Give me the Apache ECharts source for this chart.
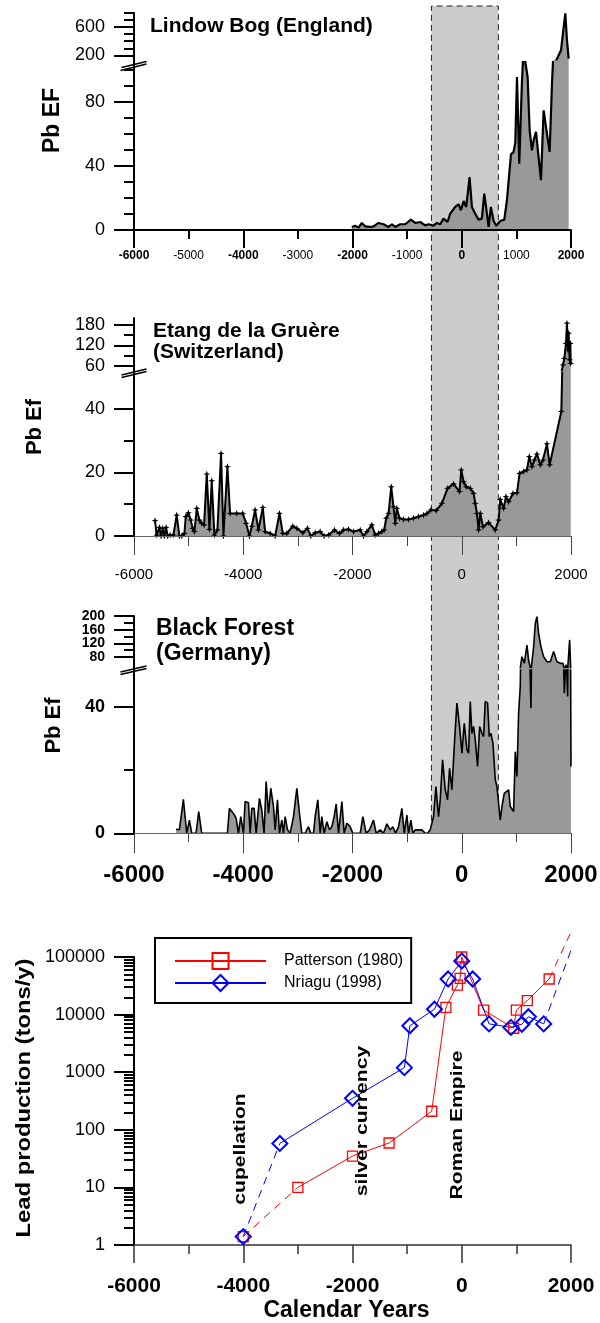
<!DOCTYPE html>
<html><head><meta charset="utf-8">
<script src="https://cdn.jsdelivr.net/npm/echarts@6/dist/echarts.min.js"></script>
<style>html,body{margin:0;padding:0;background:#fff}#c{width:600px;height:1323px}</style>
</head><body><div id="c"></div>
<script>
const FONT = "'Liberation Sans', Arial, Helvetica, sans-serif";

// ---------------- DATA ----------------
// Lindow Bog (England) – Pb EF
const lindowYears = [-2012,-1951,-1890,-1829,-1768,-1676,-1615,-1523,-1432,-1340,-1279,-1218,-1127,-1035,-931,-852,-760,-669,-608,-516,-455,-394,-333,-260,-211,-119,-58,-15,34,82,143,186,247,308,369,412,461,491,534,583,632,705,779,827,858,901,949,980,1011,1053,1102,1133,1163,1206,1243,1285,1316,1359,1407,1450,1499,1560,1609,1652,1682,1731,1774,1817,1853,1896,1926,1957];
const lindowEF = [1.9,2.7,1.5,4.4,2.3,1.9,2.3,4.4,3.6,1.9,3.6,1.9,3.6,3.6,6.5,4.4,5.0,2.9,3.6,2.7,4.4,3.6,7.1,5.0,10.2,14.4,16.1,12.3,18.1,14.4,33.1,14.4,10.2,6.5,7.1,22.7,10.2,1.9,14.4,5.6,2.7,5.6,6.5,18.6,18.6,47.3,48.8,54.4,95.6,41.5,92.5,114,105,95.6,62.3,49.8,56.1,61.3,45.6,31.1,74.8,60.2,48.8,91.5,114,129,200,271,510,795,414,153];

// Etang de la Gruère (Switzerland) – Pb Ef
const gruereYears = [-5615,-5584,-5535,-5505,-5474,-5444,-5413,-5383,-5340,-5279,-5218,-5169,-5126,-5077,-5053,-5004,-4961,-4925,-4894,-4851,-4803,-4760,-4717,-4668,-4619,-4577,-4528,-4473,-4406,-4363,-4290,-4241,-4119,-4009,-3948,-3887,-3844,-3783,-3722,-3642,-3600,-3508,-3416,-3337,-3276,-3203,-3093,-3019,-2910,-2824,-2763,-2684,-2592,-2519,-2439,-2330,-2238,-2165,-2073,-1981,-1859,-1798,-1737,-1646,-1585,-1524,-1462,-1420,-1383,-1340,-1291,-1249,-1218,-1188,-1139,-1066,-974,-882,-791,-699,-638,-565,-467,-363,-260,-150,-40,-9,34,82,156,217,247,278,308,339,388,491,614,675,705,766,809,858,937,1011,1059,1133,1194,1236,1285,1328,1377,1438,1487,1560,1609,1823,1853,1878,1908,1926,1945,1957,1975,1988,1995];
const gruereEF = [4.8,0.3,2.7,0,2.4,0,2.7,0,0.3,0.3,6.6,0,0,0.8,6.1,7.3,5.0,2.4,1.4,8.7,5.0,4.0,3.5,19.5,2.1,17.4,0.3,1.9,26.0,0,21.8,7.1,7.1,7.1,4.0,0,3.1,8.2,1.9,9.0,1.4,0.8,0,7.1,0.8,0.8,3.1,2.4,1.0,2.4,0,1.0,1.4,0,0.3,1.9,0.8,1.9,2.1,1.4,1.9,0,1.4,3.5,0.3,0.8,1.4,1.9,5.6,7.1,15.5,9.2,4.0,8.7,5.6,5.2,5.2,5.6,6.1,6.6,7.1,8.2,8.0,10.3,15.0,16.4,14.0,20.8,17.1,15.5,15.0,13.4,10.3,7.1,1.9,7.1,2.9,4.2,1.9,5.0,11.5,8.7,12.4,10.8,13.4,13.6,19.7,20.3,20.8,25.0,21.8,23.9,25.8,22.4,23.9,29.0,22.4,39.2,63,82,126,185,107,156,78,126,68];

// Black Forest (Germany) – Pb Ef
const blackYears = [-5230,-5169,-5096,-5034,-4986,-4943,-4864,-4815,-4760,-4290,-4253,-4180,-4131,-4088,-4045,-3996,-3966,-3905,-3874,-3844,-3801,-3764,-3703,-3661,-3618,-3581,-3538,-3496,-3447,-3416,-3374,-3337,-3294,-3264,-3233,-3190,-3141,-3080,-3019,-2971,-2928,-2867,-2806,-2763,-2714,-2684,-2635,-2592,-2562,-2519,-2470,-2421,-2378,-2336,-2299,-2256,-2195,-2152,-2103,-2042,-1994,-1859,-1810,-1749,-1688,-1615,-1566,-1493,-1432,-1371,-1310,-1261,-1212,-1157,-1096,-1053,-1004,-974,-931,-895,-852,-730,-669,-626,-577,-516,-473,-425,-394,-351,-302,-260,-223,-180,-137,-89,-40,3,46,95,125,156,186,217,247,290,327,369,400,430,473,504,534,571,614,644,705,736,778,858,888,949,980,1010,1041,1071,1102,1145,1194,1224,1267,1316,1346,1377,1407,1450,1499,1560,1621,1682,1743,1805,1853,1878,1914,1939,1975,2000];
const blackEF = [1.3,1.1,10.8,0,4.2,0,0,6.9,0,0,7.9,6.3,4.8,0,5.3,0,10.1,9.7,0,7.9,7.9,0,11.1,7.4,0,16.4,6.3,14.3,8.5,1.1,10.6,0,4.2,0,5.3,1.1,0,5.3,14.3,6.3,0,0,2.1,0,0,5.3,10.6,0,5.3,0,3.7,1.1,2.1,5.3,9.3,0,10.1,0,3.2,2.1,0,0,5.3,0,1.1,4.2,0,1.1,0,3.0,1.1,2.1,0,2.1,7.9,0,5.8,0,4.2,0,1.1,1.1,0,0,1.1,5.3,14.8,5.3,10.6,23.3,13.8,10.6,20.6,13.8,27.5,41.3,33.9,25.4,34.9,26.5,25.4,41.8,31.7,33.9,29.6,21.2,33.9,31.7,30.7,41.8,41.3,30.7,31.7,28.6,16.9,14.8,4.2,8.5,12.7,13.8,8.5,6.9,25.9,18.0,38.1,46.6,81,61.5,115,71,39.7,110,178,198,149,110,81,66,66,96,66,61.5,61.5,44.4,57,43.4,130,21.2];

// Lead production (tons/y)
const pattersonYears = [-4000,-3000,-2000,-1330,-550,-290,-80,-30,0,400,950,1000,1200,1600];
const pattersonProd  = [1.4,10,35,59,210,13400,32600,42700,100000,12000,5800,12000,17500,41500];
const pattersonTrendYears = [1600,2016];
const pattersonTrend = [41500,294000];
const nriaguYears = [-4000,-3330,-2000,-1050,-950,-500,-250,0,200,500,900,1100,1220,1500];
const nriaguProd  = [1.4,58,352,1200,6400,12400,41500,85000,41500,6900,6000,6800,9200,6900];
const nriaguTrendYears = [1500,2138];
const nriaguTrend = [6900,294000];

// Shaded interval (years)
const bandYears = [-555, 670];

// Tick / label values
const p1LowShort = [10,20,30,50,60,70,90,100], p1LowLong = [0,40,80];
const p1UpShort = [300,400,500,700,800], p1UpLong = [200,600];
const p2LowShort = [10,30], p2LowLong = [0,20,40];
const p2UpShort = [90,150], p2UpLong = [60,120,180];
const p3LowShort = [20], p3LowLong = [0,40];
const p3UpShort = [100,140,180], p3UpLong = [80,120,160,200];
const logMajor = [1,10,100,1000,10000,100000];
const logMinor = [];
[1,10,100,1000,10000].forEach(d => { for (let k = 2; k <= 9; k++) logMinor.push(k * d); });

// ---------------- BUILD ----------------
const X_MIN = -6000, X_MAX = 2000;
const grids = [], xAxes = [], yAxes = [], series = [];
const pairs = (xs, ys) => xs.map((x, i) => [x, ys[i]]);
const plain = v => String(v);

function addGrid(top, height) {
  grids.push({left: 134, width: 437, top: top, height: height, containLabel: false, outerBoundsMode: 'none', show: false});
  return grids.length - 1;
}
function xPair(g, st) {
  const ia = xAxes.length;
  xAxes.push({gridIndex: g, type: 'value', min: X_MIN, max: X_MAX, interval: 1000, position: 'bottom', z: 4,
    axisLine: {show: true, onZero: false, lineStyle: st.line},
    axisTick: {show: true, length: st.shortLen, lineStyle: st.tick},
    axisLabel: st.shortLabel || {show: false}, splitLine: {show: false}});
  xAxes.push({gridIndex: g, type: 'value', min: X_MIN, max: X_MAX, interval: 2000, position: 'bottom', z: 4,
    axisLine: {show: false, onZero: false},
    axisTick: {show: true, length: st.longLen, lineStyle: st.tick},
    axisLabel: st.longLabel ? Object.assign({formatter: plain, hideOverlap: false}, st.longLabel) : {show: false},
    splitLine: {show: false}});
  return ia;
}
function xHidden(g) {
  xAxes.push({gridIndex: g, type: 'value', min: X_MIN, max: X_MAX, show: false, splitLine: {show: false}});
  return xAxes.length - 1;
}
// visible y axis: short ticks + long ticks; labels can be split over several overlaid axes
function yPair(g, type, min, max, shortVals, longVals, lab, labelGroups) {
  const ia = yAxes.length;
  const base = {gridIndex: g, type: type, min: min, max: max, position: 'left', z: 4, splitLine: {show: false}};
  if (type === 'log') base.logBase = 10;
  const labStyle = vals => Object.assign({show: true, customValues: vals, margin: 29, color: '#000', fontFamily: FONT,
      formatter: plain, hideOverlap: false, showMinLabel: true, showMaxLabel: true}, lab);
  yAxes.push(Object.assign({}, base, {
    axisLine: {show: true, onZero: false, lineStyle: {color: '#000', width: 2}},
    axisTick: {show: true, customValues: shortVals, length: 10, lineStyle: {color: '#000', width: 2}},
    axisLabel: {show: false}}));
  const groups = labelGroups || [longVals];
  groups.forEach((vals, k) => {
    yAxes.push(Object.assign({}, base, {
      axisLine: {show: false, onZero: false},
      axisTick: k === 0 ? {show: true, customValues: longVals, length: 20, lineStyle: {color: '#000', width: 2}} : {show: false},
      axisLabel: labStyle(vals)}));
  });
  return ia;
}
function yHidden(g, min, max) {
  yAxes.push({gridIndex: g, type: 'value', min: min, max: max, show: false, splitLine: {show: false}});
  return yAxes.length - 1;
}
// area fill with a hair-thin (invisible) line so its clip rect is not expanded
function areaSeries(xi, yi, data) {
  series.push({type: 'line', xAxisIndex: xi, yAxisIndex: yi, data: data, z: 2, clip: true, silent: true,
    symbol: 'none', showSymbol: false, lineStyle: {color: '#999', width: 0.01, opacity: 0},
    areaStyle: {color: '#999999', opacity: 1}, emphasis: {disabled: true}});
}
function lineSeries(xi, yi, data, lw, sym) {
  series.push({type: 'line', xAxisIndex: xi, yAxisIndex: yi, data: data, z: 2, clip: true, silent: true,
    symbol: sym ? sym.type : 'none', symbolSize: sym ? sym.size : 0, showSymbol: !!sym,
    itemStyle: {color: '#000'}, lineStyle: {color: '#000', width: lw}, emphasis: {disabled: true}});
}
// upper (compressed) segment: area grid + a line grid raised by `raise` px with the same scale
function upperSegment(top, bottom, min, max, raise, data, lw, sym, shortVals, longVals, lab, groups) {
  const gA = addGrid(top, bottom - top);
  const xa = xHidden(gA);
  const ya = yPair(gA, 'value', min, max, shortVals, longVals, lab, groups);
  areaSeries(xa, ya, data);
  const perPx = (max - min) / (bottom - top);
  const gL = addGrid(top, bottom - raise - top);
  const xl = xHidden(gL);
  const yl = yHidden(gL, min + raise * perPx, max);
  lineSeries(xl, yl, data, lw, sym);
}

// shaded band spanning the three core panels
const gb = addGrid(6, 827.3);
const xb = xHidden(gb), yb = yHidden(gb, 0, 1);
const bandData = [[{xAxis: bandYears[0]}, {xAxis: bandYears[1]}]];
series.push({type: 'line', xAxisIndex: xb, yAxisIndex: yb, data: [[X_MIN, 0]], symbol: 'none', z: 1, silent: true,
  lineStyle: {width: 0, opacity: 0},
  markArea: {silent: true, itemStyle: {color: '#cccccc'}, data: bandData}});
series.push({type: 'line', xAxisIndex: xb, yAxisIndex: yb, data: [[X_MIN, 0]], symbol: 'none', z: 3, silent: true,
  lineStyle: {width: 0, opacity: 0},
  markArea: {silent: true, itemStyle: {color: 'rgba(0,0,0,0)', borderColor: '#222', borderWidth: 1, borderType: [6, 4]}, data: bandData}});

// Panel 1: Lindow Bog (lower 0–105 linear, upper 105–800 compressed)
const lindow = pairs(lindowYears, lindowEF);
const g1L = addGrid(62, 168);
const x1 = xPair(g1L, {line: {color: '#000', width: 2}, tick: {color: '#000', width: 2}, shortLen: 9, longLen: 18,
  shortLabel: {show: true, margin: 26, verticalAlign: 'middle', color: '#000', fontFamily: FONT, fontSize: 12, hideOverlap: false,
    formatter: v => (v % 2000 === 0 ? '{b|' + v + '}' : '{n|' + v + '}'),
    rich: {b: {fontWeight: 'bold', fontSize: 12, fontFamily: FONT, color: '#000'},
           n: {fontWeight: 'normal', fontSize: 12, fontFamily: FONT, color: '#000'}}}});
const y1L = yPair(g1L, 'value', 0, 105, p1LowShort, p1LowLong, {fontSize: 18});
areaSeries(x1, y1L, lindow);
lineSeries(x1, y1L, lindow, 2.2, null);
upperSegment(13, 62, 105, 800, 2.5, lindow, 2.2, null, p1UpShort, p1UpLong, {fontSize: 18});

// Panel 2: Etang de la Gruère
const gruere = pairs(gruereYears, gruereEF);
const star = {type: 'path://M0,-4L1,-1L4,0L1,1L0,4L-1,1L-4,0L-1,-1Z', size: 7};
const g2L = addGrid(373, 163);
const x2 = xPair(g2L, {line: {color: '#666', width: 1}, tick: {color: '#444', width: 1}, shortLen: 10, longLen: 19,
  longLabel: {show: true, margin: 39, verticalAlign: 'middle', color: '#000', fontFamily: FONT, fontSize: 15}});
const y2L = yPair(g2L, 'value', 0, 51.3, p2LowShort, p2LowLong, {fontSize: 18});
areaSeries(x2, y2L, gruere);
lineSeries(x2, y2L, gruere, 2, star);
upperSegment(318.1, 373, 39.5, 200, 2.5, gruere, 2, star, p2UpShort, p2UpLong, {fontSize: 18});

// Panel 3: Black Forest
const black = pairs(blackYears, blackEF);
const g3L = addGrid(670, 163.3);
const x3 = xPair(g3L, {line: {color: '#666', width: 1}, tick: {color: '#444', width: 1}, shortLen: 9, longLen: 20,
  longLabel: {show: true, margin: 42, verticalAlign: 'middle', color: '#000', fontFamily: FONT, fontSize: 24, fontWeight: 'bold'}});
const y3L = yPair(g3L, 'value', 0, 51.8, p3LowShort, p3LowLong, {fontSize: 18, fontWeight: 'bold'});
areaSeries(x3, y3L, black);
lineSeries(x3, y3L, black, 1.6, null);
upperSegment(616, 670, 42, 200, 2.5, black, 1.6, null, p3UpShort, p3UpLong,
  {fontSize: 14, fontWeight: 'bold', lineHeight: 12}, [[80, 160], [120, 200]]);

// Panel 4: lead production (log)
const g4 = addGrid(957, 288);
const x4 = xPair(g4, {line: {color: '#333', width: 1.5}, tick: {color: '#333', width: 1.5}, shortLen: 9, longLen: 18,
  longLabel: {show: true, margin: 41, verticalAlign: 'middle', color: '#000', fontFamily: FONT, fontSize: 21, fontWeight: 'bold'}});
const y4 = yPair(g4, 'log', 1, 100000, logMinor, logMajor, {fontSize: 18});

const redSym = {color: 'rgba(255,255,255,0)', borderColor: '#ff0000', borderWidth: 1.3};
const blueSym = {color: 'rgba(255,255,255,0)', borderColor: '#0000ff', borderWidth: 2};
function prodSeries(name, xs, ys, trendX, trendY, color, symbol, size, itemStyle) {
  series.push({name: name + ' early', type: 'line', xAxisIndex: x4, yAxisIndex: y4, z: 5, silent: true,
    data: [{value: [xs[0], ys[0]]}, {value: [xs[1], ys[1]], symbol: 'none'}],
    symbol: symbol, symbolSize: size, itemStyle: itemStyle,
    lineStyle: {color: color, width: 1, type: [8, 6]}});
  series.push({name: name, type: 'line', xAxisIndex: x4, yAxisIndex: y4, z: 5, silent: true,
    data: pairs(xs.slice(1), ys.slice(1)), symbol: symbol, symbolSize: size, itemStyle: itemStyle,
    lineStyle: {color: color, width: 1}});
  series.push({name: name + ' trend', type: 'line', xAxisIndex: x4, yAxisIndex: y4, z: 5, silent: true, clip: false,
    data: pairs(trendX, trendY), symbol: 'none', lineStyle: {color: color, width: 1, type: [8, 6]}});
}
prodSeries('Patterson (1980)', pattersonYears, pattersonProd, pattersonTrendYears, pattersonTrend, '#ff0000', 'rect', 10, redSym);
prodSeries('Nriagu (1998)', nriaguYears, nriaguProd, nriaguTrendYears, nriaguTrend, '#0000ff', 'diamond', 15, blueSym);

// ---------------- TEXT / DECORATION ----------------
function txt(text, x, y, size, align) {
  return {type: 'text', x: x, y: y, z: 100, silent: true,
    style: {text: text, fontFamily: FONT, fontSize: size, fontWeight: 'bold', fill: '#000', align: align || 'left', verticalAlign: 'middle'}};
}
function vtxt(text, x, y, size, sx) {
  return {type: 'text', x: x, y: y, rotation: Math.PI / 2, scaleX: sx || 1, z: 100, silent: true,
    style: {text: text, fontFamily: FONT, fontSize: size, fontWeight: 'bold', fill: '#000', align: 'center', verticalAlign: 'middle'}};
}
function brk(x1, y1, x2, y2) {
  return {type: 'line', z: 100, silent: true, shape: {x1: x1, y1: y1, x2: x2, y2: y2}, style: {stroke: '#000', lineWidth: 1.5}};
}
const graphic = [
  txt('Lindow Bog (England)', 150, 26, 21),
  txt('Etang de la Gruère', 153, 331.5, 21),
  txt('(Switzerland)', 153, 352.5, 21),
  txt('Black Forest', 156, 628.7, 23),
  txt('(Germany)', 156, 654, 23),
  vtxt('Pb EF', 52.5, 120.5, 23),
  vtxt('Pb Ef', 35, 427, 22),
  vtxt('Pb Ef', 53.5, 725.5, 22),
  vtxt('Lead production (tons/y)', 24, 1098, 20, 1.19),
  txt('Calendar Years', 346.5, 1311, 23, 'center'),
  vtxt('cupellation', 240.5, 1149, 16, 1.32),
  vtxt('silver currency', 362.5, 1121, 16, 1.32),
  vtxt('Roman Empire', 457.5, 1125, 16, 1.32),
  brk(120.5, 70.5, 146.5, 64), brk(121.5, 67.5, 146.5, 61.5),
  brk(121.5, 377.5, 146.5, 371.5), brk(121.5, 375, 146.5, 369),
  brk(120.5, 674.5, 146.5, 668.5), brk(120.5, 672, 146.5, 666)
];

const option = {
  animation: false,
  backgroundColor: '#ffffff',
  textStyle: {fontFamily: FONT},
  grid: grids, xAxis: xAxes, yAxis: yAxes, series: series,
  legend: {data: ['Patterson (1980)', 'Nriagu (1998)'], orient: 'vertical', left: 155, top: 938,
    itemWidth: 91, itemHeight: 20, itemGap: 4, padding: [14, 8, 11, 19], selectedMode: false,
    borderColor: '#000', borderWidth: 2, borderRadius: 0, backgroundColor: '#fff', z: 10,
    itemStyle: {borderWidth: 2},
    textStyle: {fontFamily: FONT, fontSize: 16, color: '#000', padding: [0, 0, 0, 13]}},
  graphic: graphic
};
const chart = echarts.init(document.getElementById('c'), null, {renderer: 'canvas', width: 600, height: 1323});
chart.setOption(option);
</script>
</body></html>
